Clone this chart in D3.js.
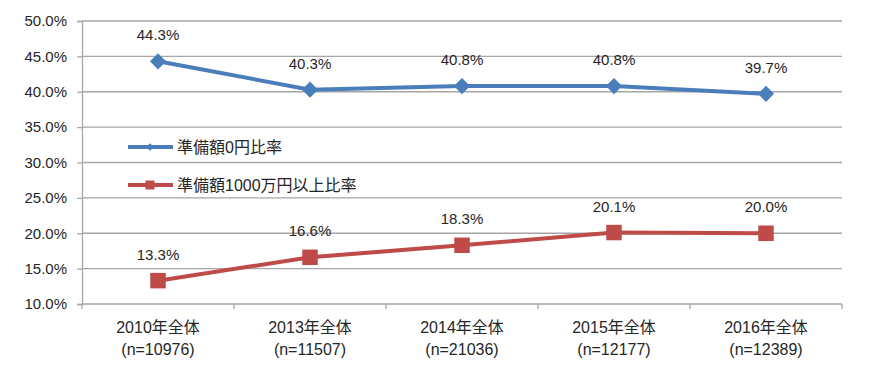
<!DOCTYPE html>
<html>
<head>
<meta charset="utf-8">
<script src="https://cdn.jsdelivr.net/npm/d3@7"></script>
<style>
  body { margin: 0; background: #ffffff; }
  svg text { font-family: "Liberation Sans", "Noto Sans CJK JP", sans-serif; fill: #262626; }
</style>
</head>
<body>
<svg id="chart" width="870" height="373"></svg>
<script>
// categories (two-line x labels)
var categories = ["2010年全体", "2013年全体", "2014年全体", "2015年全体", "2016年全体"];
var sampleSizes = ["(n=10976)", "(n=11507)", "(n=21036)", "(n=12177)", "(n=12389)"];
// series values (%)
var zeroRate = [44.3, 40.3, 40.8, 40.8, 39.7];
var over1000Rate = [13.3, 16.6, 18.3, 20.1, 20.0];
var seriesNames = ["準備額0円比率", "準備額1000万円以上比率"];
var yTicks = [10, 15, 20, 25, 30, 35, 40, 45, 50];

var svg = d3.select("#chart");
// plot area edges (note: "top" is reserved on window, so use plot* names)
var plotLeft = 82, plotRight = 842, plotTop = 21, plotBottom = 304;

var x = d3.scaleBand().domain(categories).range([plotLeft, plotRight]);
var y = d3.scaleLinear().domain([10, 50]).range([plotBottom, plotTop]);

// gridlines
svg.append("g").selectAll("line").data(yTicks.slice(1)).enter().append("line")
  .attr("x1", plotLeft).attr("x2", plotRight)
  .attr("y1", function(d) { return y(d); }).attr("y2", function(d) { return y(d); })
  .attr("stroke", "#a6a6a6").attr("stroke-width", 1.3);

// y axis
var yAxis = d3.axisLeft(y).tickValues(yTicks).tickSize(5).tickPadding(10)
  .tickFormat(function(d) { return d.toFixed(1) + "%"; });
var gy = svg.append("g").attr("transform", "translate(" + plotLeft + ",0)").call(yAxis);
gy.select(".domain").attr("stroke", "#a6a6a6").attr("stroke-width", 1.3);
gy.selectAll(".tick line").attr("stroke", "#a6a6a6").attr("stroke-width", 1.3);
gy.selectAll(".tick text").attr("font-size", "15px").attr("fill", "#262626")
  .attr("font-family", "Liberation Sans, sans-serif");

// x axis (ticks at category boundaries)
svg.append("line").attr("x1", plotLeft).attr("x2", plotRight).attr("y1", plotBottom).attr("y2", plotBottom)
  .attr("stroke", "#a6a6a6").attr("stroke-width", 1.3);
var bounds = categories.map(function(c) { return x(c); }).concat([plotRight]);
svg.append("g").selectAll("line").data(bounds).enter().append("line")
  .attr("x1", function(d) { return d; }).attr("x2", function(d) { return d; })
  .attr("y1", plotBottom).attr("y2", plotBottom + 5)
  .attr("stroke", "#a6a6a6").attr("stroke-width", 1.3);

var xl = svg.append("g").selectAll("text").data(categories).enter().append("text")
  .attr("x", function(d) { return x(d) + x.bandwidth() / 2; })
  .attr("y", 333).attr("text-anchor", "middle").attr("font-size", "16px");
xl.append("tspan").text(function(d) { return d; });
xl.append("tspan").attr("x", function(d) { return x(d) + x.bandwidth() / 2; })
  .attr("dy", 22).text(function(d, i) { return sampleSizes[i]; });

var cx = function(i) { return x(categories[i]) + x.bandwidth() / 2; };
var line = d3.line().x(function(d, i) { return cx(i); }).y(function(d) { return y(d); });

// diamond = square turned 45deg (d3's diamond is too tall)
var series = [
  { name: seriesNames[0], values: zeroRate, color: "#4a7ebb", size: 130, legendSize: 30, rot: 45 },
  { name: seriesNames[1], values: over1000Rate, color: "#be4b48", size: 240, legendSize: 80, rot: 0 }
];

series.forEach(function(s) {
  svg.append("path").datum(s.values).attr("d", line)
    .attr("fill", "none").attr("stroke", s.color).attr("stroke-width", 4);
  svg.append("g").selectAll("path").data(s.values).enter().append("path")
    .attr("d", d3.symbol().type(d3.symbolSquare).size(s.size))
    .attr("transform", function(d, i) {
      return "translate(" + cx(i) + "," + y(d) + ")rotate(" + s.rot + ")";
    })
    .attr("fill", s.color);
  svg.append("g").selectAll("text").data(s.values).enter().append("text")
    .attr("x", function(d, i) { return cx(i); })
    .attr("y", function(d) { return y(d) - 21; })
    .attr("text-anchor", "middle").attr("font-size", "15px")
    .text(function(d) { return d.toFixed(1) + "%"; });
});

// legend
var legend = svg.append("g").selectAll("g").data(series).enter().append("g")
  .attr("transform", function(d, i) { return "translate(128," + (147 + i * 38) + ")"; });
legend.append("line").attr("x1", 0).attr("x2", 45)
  .attr("stroke", function(d) { return d.color; }).attr("stroke-width", 4);
legend.append("path")
  .attr("d", function(d) { return d3.symbol().type(d3.symbolSquare).size(d.legendSize)(); })
  .attr("transform", function(d) { return "translate(22,0)rotate(" + d.rot + ")"; })
  .attr("fill", function(d) { return d.color; });
legend.append("text").attr("x", 49).attr("y", 6).attr("font-size", "16px")
  .text(function(d) { return d.name; });
</script>
</body>
</html>
